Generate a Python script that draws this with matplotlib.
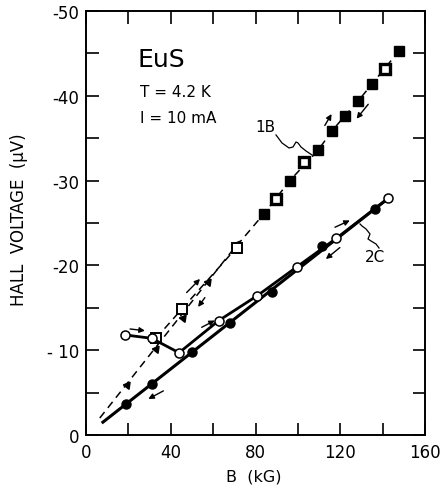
import numpy as np
import matplotlib
matplotlib.use("Agg")
import matplotlib.pyplot as plt

plt.rcParams['font.family'] = ['DejaVu Sans']

# sample 1B: increasing field (filled triangles on the dashed line)
b_1b_up_line = [6.5, 71.1]
v_1b_up_line = [-2.0, -22.4]
b_1b_tri = [19.5, 33.0, 45.6, 57.7, 71.1]
v_1b_tri = [-5.9, -10.1, -13.8, -18.0, -22.5]

# sample 1B: high field squares (up and down sweeps coincide)
b_1b_fill = [71.1, 84.0, 96.2, 109.6, 115.9, 122.2, 128.5, 135.0, 147.6]
v_1b_fill = [-22.3, -26.1, -30.0, -33.6, -35.8, -37.65, -39.4, -41.4, -45.25]
b_1b_open = [33.0, 45.4, 71.1, 89.9, 102.8, 141.0]
v_1b_open = [-11.4, -14.9, -22.1, -27.8, -32.2, -43.2]

# sample 2C: increasing field (open circles)
b_2c_up = [18.4, 31.0, 43.9, 62.7, 80.7, 99.4, 118.2, 142.6]
v_2c_up = [-11.8, -11.4, -9.7, -13.5, -16.4, -19.8, -23.2, -27.9]

# sample 2C: decreasing field (filled circles) and its line
b_2c_dn = [18.9, 31.1, 49.9, 67.9, 87.6, 111.2, 136.6]
v_2c_dn = [-3.6, -6.0, -9.75, -13.2, -16.9, -22.25, -26.65]
b_2c_dn_line = [7.4, 142.6]
v_2c_dn_line = [-1.4, -27.9]

x_ticks = [0, 40, 80, 120, 160]
y_ticks = [0, -10, -20, -30, -40, -50]
y_tick_labels = ['0', '- 10', '-20', '-30', '-40', '-50']

fig = plt.figure(figsize=(4.45, 4.89), dpi=100)
ax = fig.add_axes([0.1933, 0.1084, 0.7618, 0.8671])

dash = (0, (5, 3.5))

# dashed curves of 1B
ax.plot(b_1b_up_line, v_1b_up_line, color='k', lw=1.1, linestyle=dash)
ax.plot(b_1b_open[:3], v_1b_open[:3], color='k', lw=1.1, linestyle=dash)
ax.plot(b_1b_fill, v_1b_fill, color='k', lw=1.1, linestyle=dash)

ax.plot(b_1b_tri, v_1b_tri, linestyle='none', marker=(3, 0, -38), markersize=6,
        color='k')
# low field open squares, then the high field ones which overlap filled squares
ax.plot(b_1b_open[:3], v_1b_open[:3], linestyle='none', marker='s', markersize=6.5,
        markerfacecolor='white', markeredgecolor='k', markeredgewidth=1.4)
ax.plot(b_1b_fill[1:], v_1b_fill[1:], linestyle='none', marker='s', markersize=6.5,
        markerfacecolor='k', markeredgecolor='k', markeredgewidth=1.0)
ax.plot(b_1b_open[3:], v_1b_open[3:], linestyle='none', marker='s', markersize=6.5,
        markerfacecolor='white', markeredgecolor='k', markeredgewidth=2.4)

# solid curves of 2C
ax.plot(b_2c_dn_line, v_2c_dn_line, color='k', lw=2.2, solid_capstyle='butt')
ax.plot(b_2c_up, v_2c_up, color='k', lw=2.0)
ax.plot(b_2c_dn, v_2c_dn, linestyle='none', marker='o', markersize=6.5, color='k')
ax.plot(b_2c_up, v_2c_up, linestyle='none', marker='o', markersize=6.5,
        markerfacecolor='white', markeredgecolor='k', markeredgewidth=1.1)

# sweep direction arrows (tail -> head)
sweep_arrows = [
    ((20.8, -12.5), (27.8, -12.3)),
    ((54.6, -12.7), (60.8, -13.5)),
    ((36.5, -5.2), (29.4, -4.25)),
    ((119.8, -22.1), (113.2, -20.75)),
    ((117.5, -24.5), (124.5, -25.3)),
    ((112.7, -36.5), (115.9, -37.85)),
    ((133.2, -39.0), (127.7, -37.3)),
    ((47.5, -16.8), (53.8, -18.4)),
    ((56.1, -16.2), (52.9, -15.1)),
]
for tail, head in sweep_arrows:
    ax.annotate('', xy=head, xytext=tail,
                arrowprops=dict(arrowstyle='-|>', lw=1.0, color='k',
                                mutation_scale=8, shrinkA=0, shrinkB=0))

# curve labels with wavy leaders (drawn in pixel space of the axes)
def squiggle(px, py):
    xs = (np.array(px) - 86) / 339.0
    ys = (436 - np.array(py)) / 424.0
    ax.plot(xs, ys, color='k', lw=0.9, transform=ax.transAxes)

squiggle([276, 282, 289, 293, 296, 298, 301, 306, 312],
         [136, 144, 149, 148, 143, 144, 148, 152, 156])
ax.text((265 - 86) / 339.0, (436 - 128) / 424.0, '1B', transform=ax.transAxes,
        fontsize=11, ha='center', va='center')

squiggle([379, 376, 371, 368, 370, 366, 362, 360],
         [249, 245, 242, 240, 235, 230, 227, 225])
ax.text((375 - 86) / 339.0, (436 - 258) / 424.0, '2C', transform=ax.transAxes,
        fontsize=11, ha='center', va='center')

ax.text(0.153, 0.871, 'EuS', transform=ax.transAxes, fontsize=18, va='baseline')
ax.text(0.159, 0.800, 'T = 4.2 K', transform=ax.transAxes, fontsize=11, va='baseline')
ax.text(0.159, 0.738, 'I = 10 mA', transform=ax.transAxes, fontsize=11, va='baseline')

ax.set_xlim(0, 160)
ax.set_ylim(0, -50)
ax.set_xticks(x_ticks)
ax.set_xticks(np.arange(20, 160, 40), minor=True)
ax.set_yticks(y_ticks)
ax.set_yticklabels(y_tick_labels)
ax.set_yticks(np.arange(-5, -50, -10), minor=True)
ax.tick_params(which='both', direction='in', length=9, width=1.2,
               top=True, right=True, labelsize=12)
ax.tick_params(axis='x', pad=6)
ax.tick_params(axis='y', pad=5)
for s in ax.spines.values():
    s.set_linewidth(1.4)

ax.set_xlabel('B  (kG)', fontsize=11.5)
ax.xaxis.set_label_coords(0.496, -0.078)
ax.set_ylabel('HALL  VOLTAGE  (\u03bcV)', fontsize=12)
ax.yaxis.set_label_coords(-0.171, 0.509)

fig.savefig('out.png', dpi=100)
